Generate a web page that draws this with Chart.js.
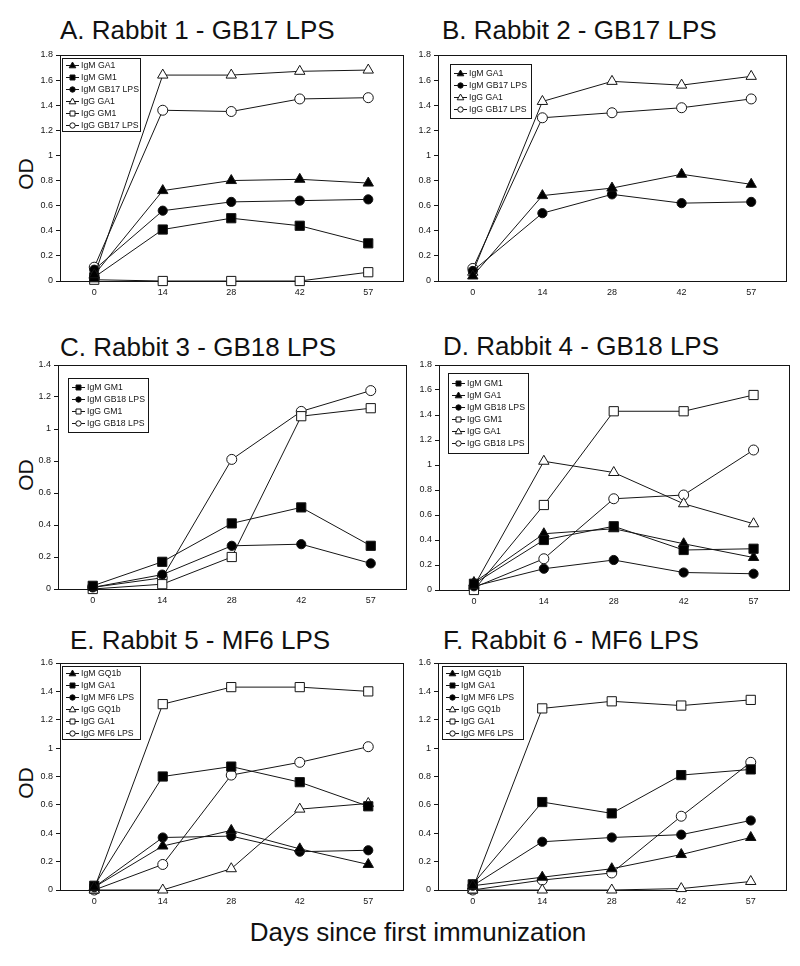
<!DOCTYPE html>
<html>
<head>
<meta charset="utf-8">
<script src="https://cdn.jsdelivr.net/npm/chart.js@4.4.0/dist/chart.umd.min.js"></script>
<style>
  body { margin: 0; background: #fff; }
  #page { position: relative; width: 800px; height: 966px; overflow: hidden; font-family: "Liberation Sans", Arial, sans-serif; color: #111; }
  canvas { position: absolute; }
  .ttl { position: absolute; font-size: 26px; line-height: 26px; white-space: nowrap; }
  .rot { position: absolute; font-size: 21px; line-height: 21px; white-space: nowrap; transform: translate(-50%, -50%) rotate(-90deg); }
  .xl { position: absolute; font-size: 26px; line-height: 26px; white-space: nowrap; transform: translate(-50%, -50%); }
</style>
</head>
<body>
<div id="page">
  <div class="ttl" style="left:60px;top:17px">A. Rabbit 1 - GB17 LPS</div>
  <div class="ttl" style="left:442px;top:17px">B. Rabbit 2 - GB17 LPS</div>
  <div class="ttl" style="left:60px;top:334px">C. Rabbit 3 - GB18 LPS</div>
  <div class="ttl" style="left:443px;top:333px">D. Rabbit 4 - GB18 LPS</div>
  <div class="ttl" style="left:70px;top:627px">E. Rabbit 5 - MF6 LPS</div>
  <div class="ttl" style="left:443px;top:627px">F. Rabbit 6 - MF6 LPS</div>
  <div class="rot" style="left:25px;top:174px">OD</div>
  <div class="rot" style="left:25px;top:475px">OD</div>
  <div class="rot" style="left:25px;top:783px">OD</div>
  <div class="xl" style="left:418px;top:932px">Days since first immunization</div>
  <canvas id="cA"></canvas>
  <canvas id="cB"></canvas>
  <canvas id="cC"></canvas>
  <canvas id="cD"></canvas>
  <canvas id="cE"></canvas>
  <canvas id="cF"></canvas>
</div>
<script>
const days = ['0', '14', '28', '42', '57'];

// A. Rabbit 1 - GB17 LPS
const aLabels = ['IgM GA1', 'IgM GM1', 'IgM GB17 LPS', 'IgG GA1', 'IgG GM1', 'IgG GB17 LPS'];
const aIgmGa1 = [0.05, 0.72, 0.80, 0.81, 0.78];
const aIgmGm1 = [0.03, 0.41, 0.50, 0.44, 0.30];
const aIgmLps = [0.09, 0.56, 0.63, 0.64, 0.65];
const aIggGa1 = [0.04, 1.64, 1.64, 1.67, 1.68];
const aIggGm1 = [0.01, 0.00, 0.00, 0.00, 0.07];
const aIggLps = [0.11, 1.36, 1.35, 1.45, 1.46];

// B. Rabbit 2 - GB17 LPS
const bLabels = ['IgM GA1', 'IgM GB17 LPS', 'IgG GA1', 'IgG GB17 LPS'];
const bIgmGa1 = [0.04, 0.68, 0.74, 0.85, 0.77];
const bIgmLps = [0.08, 0.54, 0.69, 0.62, 0.63];
const bIggGa1 = [0.07, 1.43, 1.59, 1.56, 1.63];
const bIggLps = [0.10, 1.30, 1.34, 1.38, 1.45];

// C. Rabbit 3 - GB18 LPS
const cLabels = ['IgM GM1', 'IgM GB18 LPS', 'IgG GM1', 'IgG GB18 LPS'];
const cIgmGm1 = [0.02, 0.17, 0.41, 0.51, 0.27];
const cIgmLps = [0.01, 0.09, 0.27, 0.28, 0.16];
const cIggGm1 = [0.00, 0.03, 0.20, 1.08, 1.13];
const cIggLps = [0.01, 0.07, 0.81, 1.11, 1.24];

// D. Rabbit 4 - GB18 LPS
const dLabels = ['IgM GM1', 'IgM GA1', 'IgM GB18 LPS', 'IgG GM1', 'IgG GA1', 'IgG GB18 LPS'];
const dIgmGm1 = [0.05, 0.40, 0.51, 0.32, 0.33];
const dIgmGa1 = [0.06, 0.45, 0.49, 0.37, 0.26];
const dIgmLps = [0.03, 0.17, 0.24, 0.14, 0.13];
const dIggGm1 = [0.00, 0.68, 1.43, 1.43, 1.56];
const dIggGa1 = [0.03, 1.03, 0.94, 0.69, 0.53];
const dIggLps = [0.02, 0.25, 0.73, 0.76, 1.12];

// E. Rabbit 5 - MF6 LPS
const eLabels = ['IgM GQ1b', 'IgM GA1', 'IgM MF6 LPS', 'IgG GQ1b', 'IgG GA1', 'IgG MF6 LPS'];
const eIgmGq1b = [0.02, 0.31, 0.42, 0.29, 0.18];
const eIgmGa1 = [0.03, 0.80, 0.87, 0.76, 0.59];
const eIgmLps = [0.02, 0.37, 0.38, 0.27, 0.28];
const eIggGq1b = [0.00, 0.00, 0.15, 0.57, 0.61];
const eIggGa1 = [0.01, 1.31, 1.43, 1.43, 1.40];
const eIggLps = [0.00, 0.18, 0.81, 0.90, 1.01];

// F. Rabbit 6 - MF6 LPS
const fLabels = ['IgM GQ1b', 'IgM GA1', 'IgM MF6 LPS', 'IgG GQ1b', 'IgG GA1', 'IgG MF6 LPS'];
const fIgmGq1b = [0.03, 0.09, 0.15, 0.25, 0.37];
const fIgmGa1 = [0.04, 0.62, 0.54, 0.81, 0.85];
const fIgmLps = [0.03, 0.34, 0.37, 0.39, 0.49];
const fIggGq1b = [0.00, 0.00, 0.00, 0.01, 0.06];
const fIggGa1 = [0.01, 1.28, 1.33, 1.30, 1.34];
const fIggLps = [0.00, 0.07, 0.12, 0.52, 0.90];

// y axis maxima per panel
const yMaxes = { A: 1.8, B: 1.8, C: 1.4, D: 1.8, E: 1.6, F: 1.6 };

// marker styles
const MARKS = {
  tri:  { shape: 'triangle', r: 6,   fill: '#000' },
  sq:   { shape: 'rect',     r: 6.5, fill: '#000' },
  dot:  { shape: 'circle',   r: 4.6, fill: '#000' },
  otri: { shape: 'triangle', r: 6,   fill: '#fff' },
  osq:  { shape: 'rect',     r: 6.5, fill: '#fff' },
  odot: { shape: 'circle',   r: 5,   fill: '#fff' }
};

const INK = '#151515';
const FONT = '"Liberation Sans", Arial, sans-serif';

// small marker for the legend box
function smallMark(ctx, shape, x, y, fill) {
  ctx.save();
  ctx.fillStyle = fill;
  ctx.strokeStyle = INK;
  ctx.lineWidth = 1;
  ctx.beginPath();
  if (shape === 'rect') {
    ctx.rect(x - 2.5, y - 2.5, 5, 5);
  } else if (shape === 'triangle') {
    ctx.moveTo(x, y - 3.5);
    ctx.lineTo(x + 3.3, y + 2.3);
    ctx.lineTo(x - 3.3, y + 2.3);
    ctx.closePath();
  } else {
    ctx.arc(x, y, 2.7, 0, Math.PI * 2);
  }
  ctx.fill();
  ctx.stroke();
  ctx.restore();
}

const frame = {
  id: 'frame',
  beforeDatasetsDraw(chart) {
    const { ctx, chartArea: a } = chart;
    ctx.save();
    ctx.strokeStyle = INK;
    ctx.lineWidth = 1;
    ctx.strokeRect(Math.round(a.left) + 0.5, Math.round(a.top) + 0.5,
      Math.round(a.right - a.left), Math.round(a.bottom - a.top));
    ctx.restore();
  }
};

const boxLegend = {
  id: 'boxLegend',
  afterDraw(chart, args, o) {
    const { ctx, chartArea: a } = chart;
    const sets = chart.data.datasets;
    const x0 = Math.round(a.left + o.x), y0 = Math.round(a.top + o.y);
    ctx.save();
    ctx.fillStyle = '#fff';
    ctx.fillRect(x0, y0, o.w, o.h);
    ctx.strokeStyle = INK;
    ctx.lineWidth = 1;
    ctx.strokeRect(x0 + 0.5, y0 + 0.5, o.w, o.h);
    const step = 12;
    const start = y0 + (o.h - (sets.length - 1) * step) / 2;
    sets.forEach((ds, i) => {
      const y = Math.round(start + i * step) + 0.5;
      ctx.strokeStyle = INK;
      ctx.beginPath();
      ctx.moveTo(x0 + 4, y);
      ctx.lineTo(x0 + 17, y);
      ctx.stroke();
      smallMark(ctx, ds.pointStyle, x0 + 10.5, y, ds.pointBackgroundColor);
      ctx.fillStyle = INK;
      ctx.font = '8.7px ' + FONT;
      ctx.textBaseline = 'middle';
      ctx.fillText(ds.label, x0 + 19, y);
    });
    ctx.restore();
  }
};

function makePanel(id, box, labels, series, marks, yMax, leg) {
  const canvas = document.getElementById(id);
  const w = box.right - box.left, h = box.bottom - box.top;
  canvas.width = w + 45;
  canvas.height = h + 30;
  canvas.style.left = (box.left - 40) + 'px';
  canvas.style.top = (box.top - 10) + 'px';

  const datasets = series.map((vals, i) => {
    const m = MARKS[marks[i]];
    return {
      label: labels[i],
      data: vals,
      borderColor: INK,
      borderWidth: 1,
      tension: 0,
      clip: false,
      pointStyle: m.shape,
      pointRadius: m.r,
      pointBackgroundColor: m.fill,
      pointBorderColor: INK,
      pointBorderWidth: 1
    };
  });

  new Chart(canvas, {
    type: 'line',
    data: { labels: days, datasets: datasets },
    options: {
      responsive: false,
      animation: false,
      events: [],
      layout: { padding: { left: 0, top: 10, right: 5, bottom: 0 } },
      plugins: {
        legend: { display: false },
        tooltip: { enabled: false },
        boxLegend: leg
      },
      scales: {
        x: {
          type: 'category',
          offset: true,
          grid: { display: false, drawTicks: false },
          border: { display: false },
          ticks: { color: INK, font: { size: 9, family: FONT }, padding: 6, maxRotation: 0, autoSkip: false },
          afterFit(s) { s.height = 20; }
        },
        y: {
          min: 0,
          max: yMax,
          grid: { display: true, drawOnChartArea: false, drawTicks: true, tickLength: 4, color: INK },
          border: { display: false },
          ticks: {
            stepSize: 0.2,
            color: INK,
            font: { size: 9, family: FONT },
            padding: 3,
            callback: v => String(Math.round(v * 10) / 10)
          },
          afterFit(s) { s.width = 40; }
        }
      }
    },
    plugins: [frame, boxLegend]
  });
}

makePanel('cA', { left: 60, top: 55, right: 405, bottom: 281 }, aLabels,
  [aIgmGa1, aIgmGm1, aIgmLps, aIggGa1, aIggGm1, aIggLps],
  ['tri', 'sq', 'dot', 'otri', 'osq', 'odot'], yMaxes.A, { x: 2, y: 3, w: 78, h: 73 });

makePanel('cB', { left: 438, top: 55, right: 788, bottom: 281 }, bLabels,
  [bIgmGa1, bIgmLps, bIggGa1, bIggLps],
  ['tri', 'dot', 'otri', 'odot'], yMaxes.B, { x: 12, y: 9, w: 81, h: 54 });

makePanel('cC', { left: 58, top: 365, right: 408, bottom: 589 }, cLabels,
  [cIgmGm1, cIgmLps, cIggGm1, cIggLps],
  ['sq', 'dot', 'osq', 'odot'], yMaxes.C, { x: 10, y: 13, w: 80, h: 54 });

makePanel('cD', { left: 439, top: 365, right: 791, bottom: 590 }, dLabels,
  [dIgmGm1, dIgmGa1, dIgmLps, dIggGm1, dIggGa1, dIggLps],
  ['sq', 'tri', 'dot', 'osq', 'otri', 'odot'], yMaxes.D, { x: 9, y: 8, w: 80, h: 80 });

makePanel('cE', { left: 60, top: 663, right: 405, bottom: 890 }, eLabels,
  [eIgmGq1b, eIgmGa1, eIgmLps, eIggGq1b, eIggGa1, eIggLps],
  ['tri', 'sq', 'dot', 'otri', 'osq', 'odot'], yMaxes.E, { x: 2, y: 3, w: 78, h: 73 });

makePanel('cF', { left: 438, top: 663, right: 788, bottom: 890 }, fLabels,
  [fIgmGq1b, fIgmGa1, fIgmLps, fIggGq1b, fIggGa1, fIggLps],
  ['tri', 'sq', 'dot', 'otri', 'osq', 'odot'], yMaxes.F, { x: 4, y: 3, w: 81, h: 73 });
</script>
</body>
</html>
